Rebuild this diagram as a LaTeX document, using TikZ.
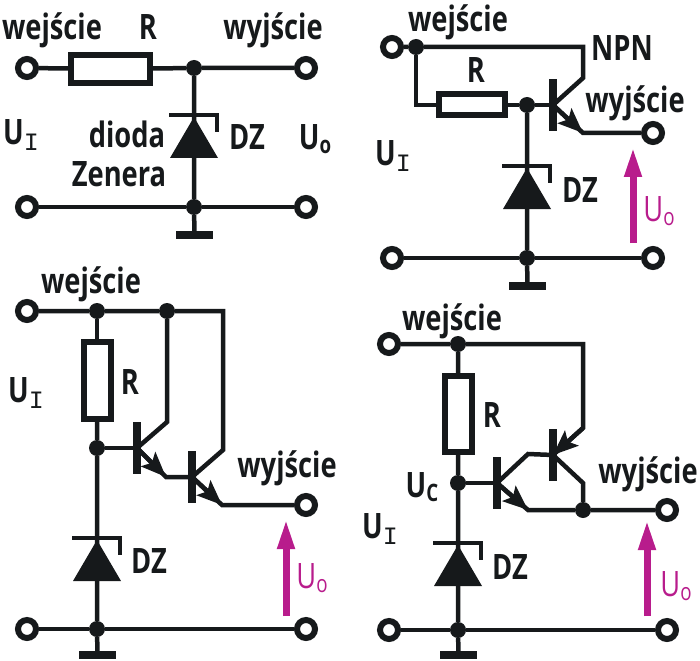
\documentclass[tikz,border=0pt]{standalone}
\usepackage{fontspec}
\setmainfont{Open Sans}[FakeStretch=0.78]
\newfontfamily\subfont{Liberation Mono}
\usetikzlibrary{arrows.meta}
\definecolor{magen}{HTML}{B81C8C}
\definecolor{ink}{HTML}{16191B}
\newcommand{\subsc}[1]{\raisebox{-4pt}{\fontsize{24}{24}\selectfont #1}}
\newcommand{\subI}{\raisebox{-6pt}{\fontsize{25}{25}\selectfont\subfont\mdseries I}}

\begin{document}
\begin{tikzpicture}[
    x=1pt, y=-1pt,
    wire/.style={draw=ink, line width=4.5pt, line join=miter},
    lbl/.style={anchor=base, inner sep=0pt, text=ink, font=\fontsize{35}{35}\selectfont\bfseries},
    mlbl/.style={anchor=base, inner sep=0pt, text=magen, font=\fontsize{35}{35}\selectfont},
    term/.style={circle, draw=ink, fill=white, line width=6pt, minimum size=18pt, inner sep=0pt},
    junc/.style={circle, fill=ink, minimum size=16pt, inner sep=0pt},
    res/.style={rectangle, draw=ink, fill=white, line width=6pt, inner sep=0pt},
    basebar/.style={rectangle, fill=ink, minimum width=7.5pt, minimum height=52pt, inner sep=0pt},
    gnd/.style={rectangle, fill=ink, minimum width=37pt, minimum height=8pt, inner sep=0pt},
    emit/.style={draw=ink, line width=4.5pt, -{Stealth[length=25pt,width=20pt,inset=5pt]}},
    uarrow/.style={draw=magen, line width=7pt, -{Triangle[length=30pt,width=16pt]}},
    zener/.pic={
        \fill[ink] (0,0) -- (24,41) -- (-24,41) -- cycle;
        \draw[ink, line width=4.5pt] (-25,-2) -- (23,-2) -- (23,15);
    }
    ]

\useasboundingbox (0,0) rectangle (700,660);

%top left
\node[term] (in1) at (27,68) {};
\node[term] (out1) at (306,68) {};
\node[term] (low1) at (27,207) {};
\node[term] (ret1) at (306,207) {};
\node[junc] (top1) at (194,68) {};
\node[junc] (bot1) at (194,207) {};
\node[gnd] (gnd1) at (194.5,235) {};
\node[res, minimum width=79pt, minimum height=28pt] (r1) at (110.5,69) {};
\draw[wire] (in1) -- (r1) (r1) -- (top1) -- (out1);
\draw[wire] (low1) -- (bot1) -- (ret1);
\draw[wire] (top1) -- (bot1) -- (gnd1);
\pic at (194,117) {zener};
\node[lbl] (w1) at (52,40) {wejście};
\node[lbl] (rl1) at (148,40) {R};
\node[lbl] (y1) at (273,40) {wyjście};
\node[lbl] (ui1) at (21,145) {U\subI};
\node[lbl] (d1) at (127,148) {dioda};
\node[lbl] (z1) at (119,187) {Zenera};
\node[lbl] (dz1) at (247,150) {DZ};
\node[lbl] (uo1) at (315,150) {U\subsc{o}};

%top right
\node[term] (in2) at (392,47) {};
\node[term] (out2) at (653,133) {};
\node[term] (low2) at (392,258) {};
\node[term] (ret2) at (653,258) {};
\node[junc] (top2) at (416,47) {};
\node[junc] (mid2) at (527,105) {};
\node[junc] (bot2) at (527,258) {};
\node[gnd] (gnd2) at (527.5,286) {};
\node[res, minimum width=66pt, minimum height=21pt] (r2) at (472,105) {};
\node[basebar] (t2) at (553,105) {};
\coordinate (c2a) at (583,47);
\coordinate (c2b) at (583,78);
\coordinate (e2) at (583,133);
\coordinate (l2) at (416,105);
\draw[wire] (in2) -- (top2) -- (c2a) -- (c2b) -- (t2.center);
\draw[wire] (top2) -- (l2) -- (r2);
\draw[wire] (r2) -- (mid2) -- (t2);
\draw[wire] (t2.center) -- (e2) -- (out2);
\draw[emit] (t2.center) -- (e2);
\draw[wire] (low2) -- (bot2) -- (ret2);
\draw[wire] (mid2) -- (bot2) -- (gnd2);
\pic at (527,168) {zener};
\coordinate (a2s) at (633,243);
\coordinate (a2e) at (633,147);
\draw[uarrow] (a2s) -- (a2e);
\node[lbl] (w2) at (458,32) {wejście};
\node[lbl] (npn2) at (622,61) {NPN};
\node[lbl] (rl2) at (476,83) {R};
\node[lbl] (y2) at (635,113) {wyjście};
\node[lbl] (ui2) at (393,166) {U\subI};
\node[lbl] (dz2) at (580,202) {DZ};
\node[mlbl] (uo2) at (659,222) {U\subsc{o}};

%bottom left
\node[term] (in3) at (27,311) {};
\node[term] (out3) at (306,505) {};
\node[term] (low3) at (27,629) {};
\node[term] (ret3) at (306,629) {};
\node[junc] (top3) at (97,311) {};
\node[junc] (col3) at (167,311) {};
\node[junc] (mid3) at (97,448) {};
\node[junc] (bot3) at (97,629) {};
\node[gnd] (gnd3) at (97.5,655) {};
\node[res, minimum width=27pt, minimum height=77pt] (r3) at (97,380.5) {};
\node[basebar] (t3a) at (137,448) {};
\node[basebar] (t3b) at (192,477) {};
\coordinate (c3a) at (223,311);
\coordinate (c3b) at (223,450);
\coordinate (c3c) at (167,422);
\coordinate (e3a) at (166,477);
\coordinate (e3b) at (222,505);
\draw[wire] (in3) -- (top3) -- (col3) -- (c3a) -- (c3b) -- (t3b.center);
\draw[wire] (col3) -- (c3c) -- (t3a.center);
\draw[wire] (top3) -- (r3);
\draw[wire] (r3) -- (mid3) -- (bot3) -- (gnd3);
\draw[wire] (mid3) -- (t3a);
\draw[wire] (t3a.center) -- (e3a) -- (t3b);
\draw[emit] (t3a.center) -- (e3a);
\draw[wire] (t3b.center) -- (e3b) -- (out3);
\draw[emit] (t3b.center) -- (e3b);
\draw[wire] (low3) -- (bot3) -- (ret3);
\pic at (97,540) {zener};
\coordinate (a3s) at (286,616);
\coordinate (a3e) at (286,519);
\draw[uarrow] (a3s) -- (a3e);
\node[lbl] (w3) at (91,293) {wejście};
\node[lbl] (rl3) at (130,394) {R};
\node[lbl] (ui3) at (26,402) {U\subI};
\node[lbl] (y3) at (287,477) {wyjście};
\node[lbl] (dz3) at (149,573) {DZ};
\node[mlbl] (uo3) at (312,588) {U\subsc{o}};

%bottom right
\node[term] (in4) at (389,344) {};
\node[term] (out4) at (667,510) {};
\node[term] (low4) at (389,630) {};
\node[term] (ret4) at (667,630) {};
\node[junc] (top4) at (458,344) {};
\node[junc] (mid4) at (458,483) {};
\node[junc] (bot4) at (458,630) {};
\node[junc] (em4) at (583,510) {};
\node[gnd] (gnd4) at (458.5,655) {};
\node[res, minimum width=27pt, minimum height=76pt] (r4) at (458.5,414) {};
\node[basebar] (t4a) at (497,483) {};
\node[basebar] (t4b) at (553,455) {};
\coordinate (c4a) at (583,344);
\coordinate (c4b) at (583,428);
\coordinate (c4c) at (528,454);
\coordinate (c4d) at (583,483);
\coordinate (e4) at (528,510);
\draw[wire] (in4) -- (top4) -- (c4a) -- (c4b) -- (t4b.center);
\draw[emit] (c4b) -- (t4b.center);
\draw[wire] (t4a.center) -- (c4c) -- (t4b);
\draw[wire] (t4b.center) -- (c4d) -- (em4);
\draw[wire] (t4a.center) -- (e4) -- (em4) -- (out4);
\draw[emit] (t4a.center) -- (e4);
\draw[wire] (top4) -- (r4);
\draw[wire] (r4) -- (mid4) -- (bot4) -- (gnd4);
\draw[wire] (mid4) -- (t4a);
\draw[wire] (low4) -- (bot4) -- (ret4);
\pic at (458,545) {zener};
\coordinate (a4s) at (647,616);
\coordinate (a4e) at (647,520);
\draw[uarrow] (a4s) -- (a4e);
\node[lbl] (w4) at (452,330) {wejście};
\node[lbl] (rl4) at (492,427) {R};
\node[lbl] (uc4) at (422,497) {U\subsc{C}};
\node[lbl] (ui4) at (380,538) {U\subI};
\node[lbl] (y4) at (648,483) {wyjście};
\node[lbl] (dz4) at (510,579) {DZ};
\node[mlbl] (uo4) at (676,596) {U\subsc{o}};
\end{tikzpicture}
\end{document}
